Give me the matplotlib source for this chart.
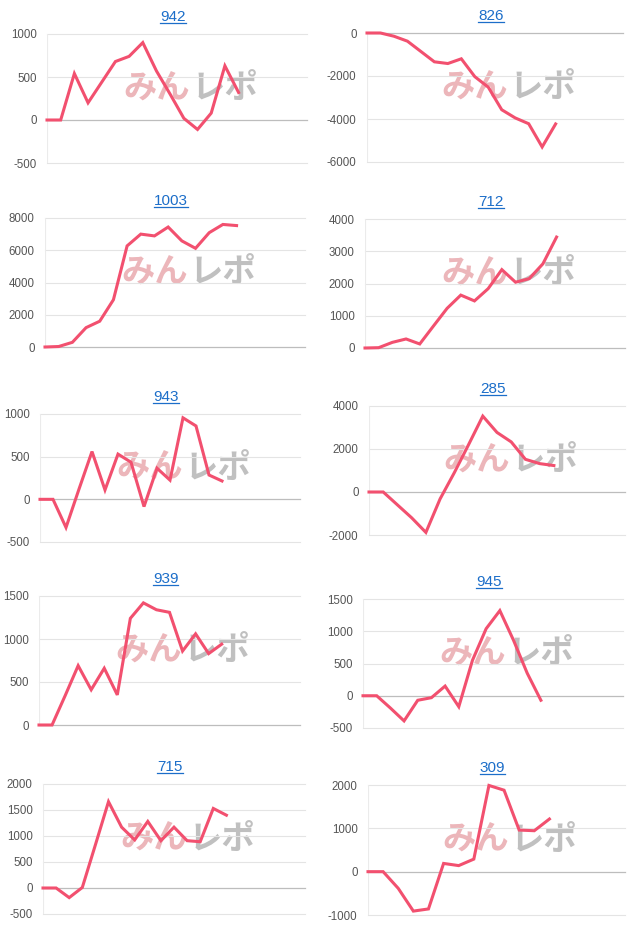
import matplotlib
matplotlib.use("Agg")
import matplotlib.pyplot as plt
from matplotlib.lines import Line2D

plt.rcParams["font.family"] = ["Liberation Sans", "Noto Sans CJK JP", "DejaVu Sans"]
plt.rcParams["axes.unicode_minus"] = False

# machine numbers (panel titles) and their running balance per game slot
titles = ["942", "826", "1003", "712", "943", "285", "939", "945", "715", "309"]

s942 = [0, 0, 540, 200, 440, 680, 740, 900, 570, 300, 20, -110, 80, 630, 320]
s826 = [0, 0, -150, -380, -860, -1340, -1420, -1200, -2030, -2520, -3570, -3950, -4220, -5300, -4230]
s1003 = [0, 30, 290, 1200, 1600, 2930, 6270, 7000, 6890, 7440, 6580, 6120, 7090, 7600, 7530]
s712 = [0, 10, 175, 280, 125, 680, 1230, 1640, 1460, 1840, 2430, 2040, 2150, 2610, 3440]
s943 = [0, 0, -330, 120, 560, 110, 530, 435, -85, 365, 225, 955, 860, 285, 215]
s285 = [0, 0, -600, -1200, -1880, -320, 900, 2200, 3530, 2770, 2330, 1520, 1320, 1230]
s939 = [0, 0, 340, 690, 410, 660, 350, 1240, 1420, 1340, 1310, 860, 1060, 830, 940]
s945 = [0, 0, -190, -390, -70, -30, 150, -170, 550, 1040, 1320, 860, 350, -70]
s715 = [0, 0, -185, 10, 830, 1660, 1170, 925, 1280, 910, 1170, 910, 890, 1530, 1400]
s309 = [0, 0, -385, -910, -860, 190, 140, 290, 1990, 1880, 960, 945, 1215]

series = [s942, s826, s1003, s712, s943, s285, s939, s945, s715, s309]

# y ranges and tick steps, x slot counts
y_ranges = [(-500, 1000), (-6000, 0), (0, 8000), (0, 4000), (-500, 1000),
            (-2000, 4000), (0, 1500), (-500, 1500), (-500, 2000), (-1000, 2000)]
y_steps = [500, 2000, 2000, 1000, 500, 2000, 500, 500, 500, 1000]
x_slots = [19, 19, 19, 19, 20, 18, 20, 19, 20, 17]

# plot area boxes in pixels: left, top, right, bottom
boxes = [(47, 34, 307, 163), (367, 33, 623, 162),
         (45, 218, 305, 347), (365, 219, 625, 348),
         (40, 414, 300, 542), (369, 406, 625, 535),
         (39, 596, 300, 725), (363, 599, 623, 728),
         (43, 784, 305, 914), (368, 785, 625, 915)]

W, H = 640, 931
LINE = "#f2506f"
LINK = "#1c6ec9"

fig = plt.figure(figsize=(W / 100, H / 100), dpi=100)
fig.patch.set_facecolor("white")

title_texts = []
for name, vals, (lo, hi), step, nx, (l, t, r, b) in zip(
        titles, series, y_ranges, y_steps, x_slots, boxes):
    ax = fig.add_axes([l / W, 1 - b / H, (r - l) / W, (b - t) / H])
    ax.set_xlim(0, nx)
    ax.set_ylim(lo, hi)
    for sp in ax.spines.values():
        sp.set_visible(False)
    ax.set_xticks([])
    ticks = list(range(lo, hi + 1, step))
    ax.set_yticks(ticks)
    ax.tick_params(axis="y", length=0, pad=7.5, labelsize=8.3, labelcolor="#555555")
    for tv in ticks:
        if tv == 0:
            continue
        ax.axhline(tv, color="#e4e4e4", lw=0.8, zorder=1, clip_on=False)
    ax.axvline(0, color="#ebebeb", lw=0.8, zorder=1)
    ax.axhline(0, color="#bdbdbd", lw=0.9, zorder=2, clip_on=False)

    # watermark logo
    ax.text(0.55, 0.575, "みん", transform=ax.transAxes, ha="right", va="center",
            fontsize=24, fontweight="bold", color="#ecb6ba", zorder=0,
            family=["Noto Sans CJK JP"])
    ax.text(0.555, 0.575, "レポ", transform=ax.transAxes, ha="left", va="center",
            fontsize=24, fontweight="bold", color="#c0c0c0", zorder=0,
            family=["Noto Sans CJK JP"])

    ax.plot(range(len(vals)), vals, color=LINE, lw=2.2, zorder=3,
            solid_joinstyle="miter", clip_on=False)

    cx = (l + r) / 2 - 4
    tt = fig.text(cx / W, 1 - (t - 13) / H, name, ha="center", va="baseline",
                  fontsize=11, color=LINK)
    title_texts.append((tt, t))

fig.canvas.draw()
renderer = fig.canvas.get_renderer()
for tt, t in title_texts:
    bb = tt.get_window_extent(renderer)
    y = 1 - (t - 11.5) / H
    fig.add_artist(Line2D([bb.x0 / W, bb.x1 / W], [y, y], color=LINK, lw=0.9,
                          transform=fig.transFigure))

fig.savefig("out.png", dpi=100)
